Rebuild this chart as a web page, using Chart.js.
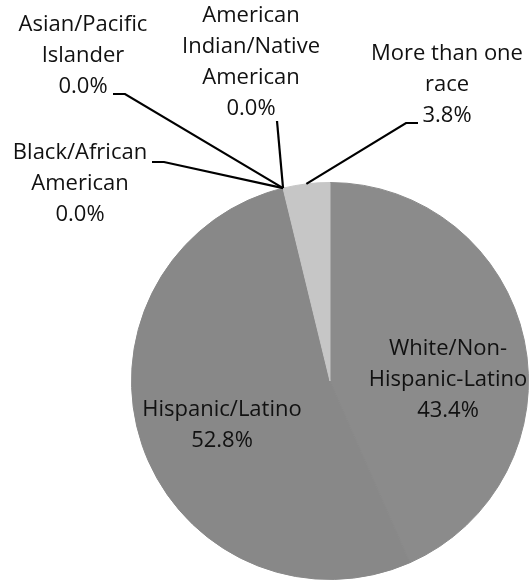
<!DOCTYPE html>
<html>
<head>
<meta charset="utf-8">
<script src="https://cdn.jsdelivr.net/npm/chart.js@4.4.1/dist/chart.umd.min.js"></script>
<style>
  html, body { margin: 0; padding: 0; background: #fff; }
  #wrap { width: 530px; height: 586px; position: relative; }
</style>
</head>
<body>
<div id="wrap"><canvas id="pie"></canvas></div>
<script>
// categories in clockwise order from 12 o'clock
const categories = ['White/Non-Hispanic-Latino', 'Hispanic/Latino', 'Black/African American',
  'Asian/Pacific Islander', 'American Indian/Native American', 'More than one race'];
const shares = [43.4, 52.8, 0.0, 0.0, 0.0, 3.8];
const sliceColors = ['#8b8b8b', '#888888', '#555555', '#666666', '#777777', '#c6c6c6'];

// label text lines (value line is appended from shares)
const labelLines = [
  ['White/Non-', 'Hispanic-Latino'],
  ['Hispanic/Latino'],
  ['Black/African', 'American'],
  ['Asian/Pacific', 'Islander'],
  ['American', 'Indian/Native', 'American'],
  ['More than one', 'race']
];
// centre of first text line; elbow = where the leader leaves the text
const labelPos = [
  { x: 448, y: 349, inside: true },
  { x: 222, y: 410, inside: true },
  { x: 80, y: 153, elbow: [[152, 162], [164, 162]] },
  { x: 83, y: 25, elbow: [[113, 94], [125, 94]] },
  { x: 251, y: 16, elbow: [[277, 121]] },
  { x: 447, y: 54, elbow: [[418, 123], [406, 123]] }
];

const labelPlugin = {
  id: 'pieLabels',
  afterDatasetsDraw(chart) {
    const ctx = chart.ctx;
    const arcs = chart.getDatasetMeta(0).data;
    ctx.save();
    ctx.font = '22px "Open Sans", sans-serif';
    ctx.textAlign = 'center';
    ctx.textBaseline = 'middle';
    const lh = 31;
    arcs.forEach((arc, i) => {
      const p = labelPos[i];
      const lines = labelLines[i].concat([shares[i].toFixed(1) + '%']);
      ctx.fillStyle = '#111';
      lines.forEach((t, k) => ctx.fillText(t, p.x, p.y + k * lh));
      if (p.inside) return;
      const { x, y, startAngle, endAngle, outerRadius } = arc.getProps(['x', 'y', 'startAngle', 'endAngle', 'outerRadius'], true);
      const mid = (startAngle + endAngle) / 2;
      const ax = x + Math.cos(mid) * outerRadius;
      const ay = y + Math.sin(mid) * outerRadius;
      ctx.strokeStyle = '#000';
      ctx.lineWidth = 2.2;
      ctx.beginPath();
      ctx.moveTo(p.elbow[0][0], p.elbow[0][1]);
      p.elbow.slice(1).forEach(e => ctx.lineTo(e[0], e[1]));
      ctx.lineTo(ax, ay);
      ctx.stroke();
    });
    ctx.restore();
  }
};

new Chart(document.getElementById('pie'), {
  type: 'pie',
  data: {
    labels: categories,
    datasets: [{
      data: shares,
      backgroundColor: sliceColors,
      borderColor: sliceColors,
      borderWidth: shares.map(v => (v > 0 ? 1 : 0))
    }]
  },
  options: {
    responsive: true,
    maintainAspectRatio: false,
    animation: false,
    layout: { padding: { left: 130, right: 0, top: 182, bottom: 6 } },
    plugins: { legend: { display: false }, tooltip: { enabled: false } }
  },
  plugins: [labelPlugin]
});
</script>
</body>
</html>
